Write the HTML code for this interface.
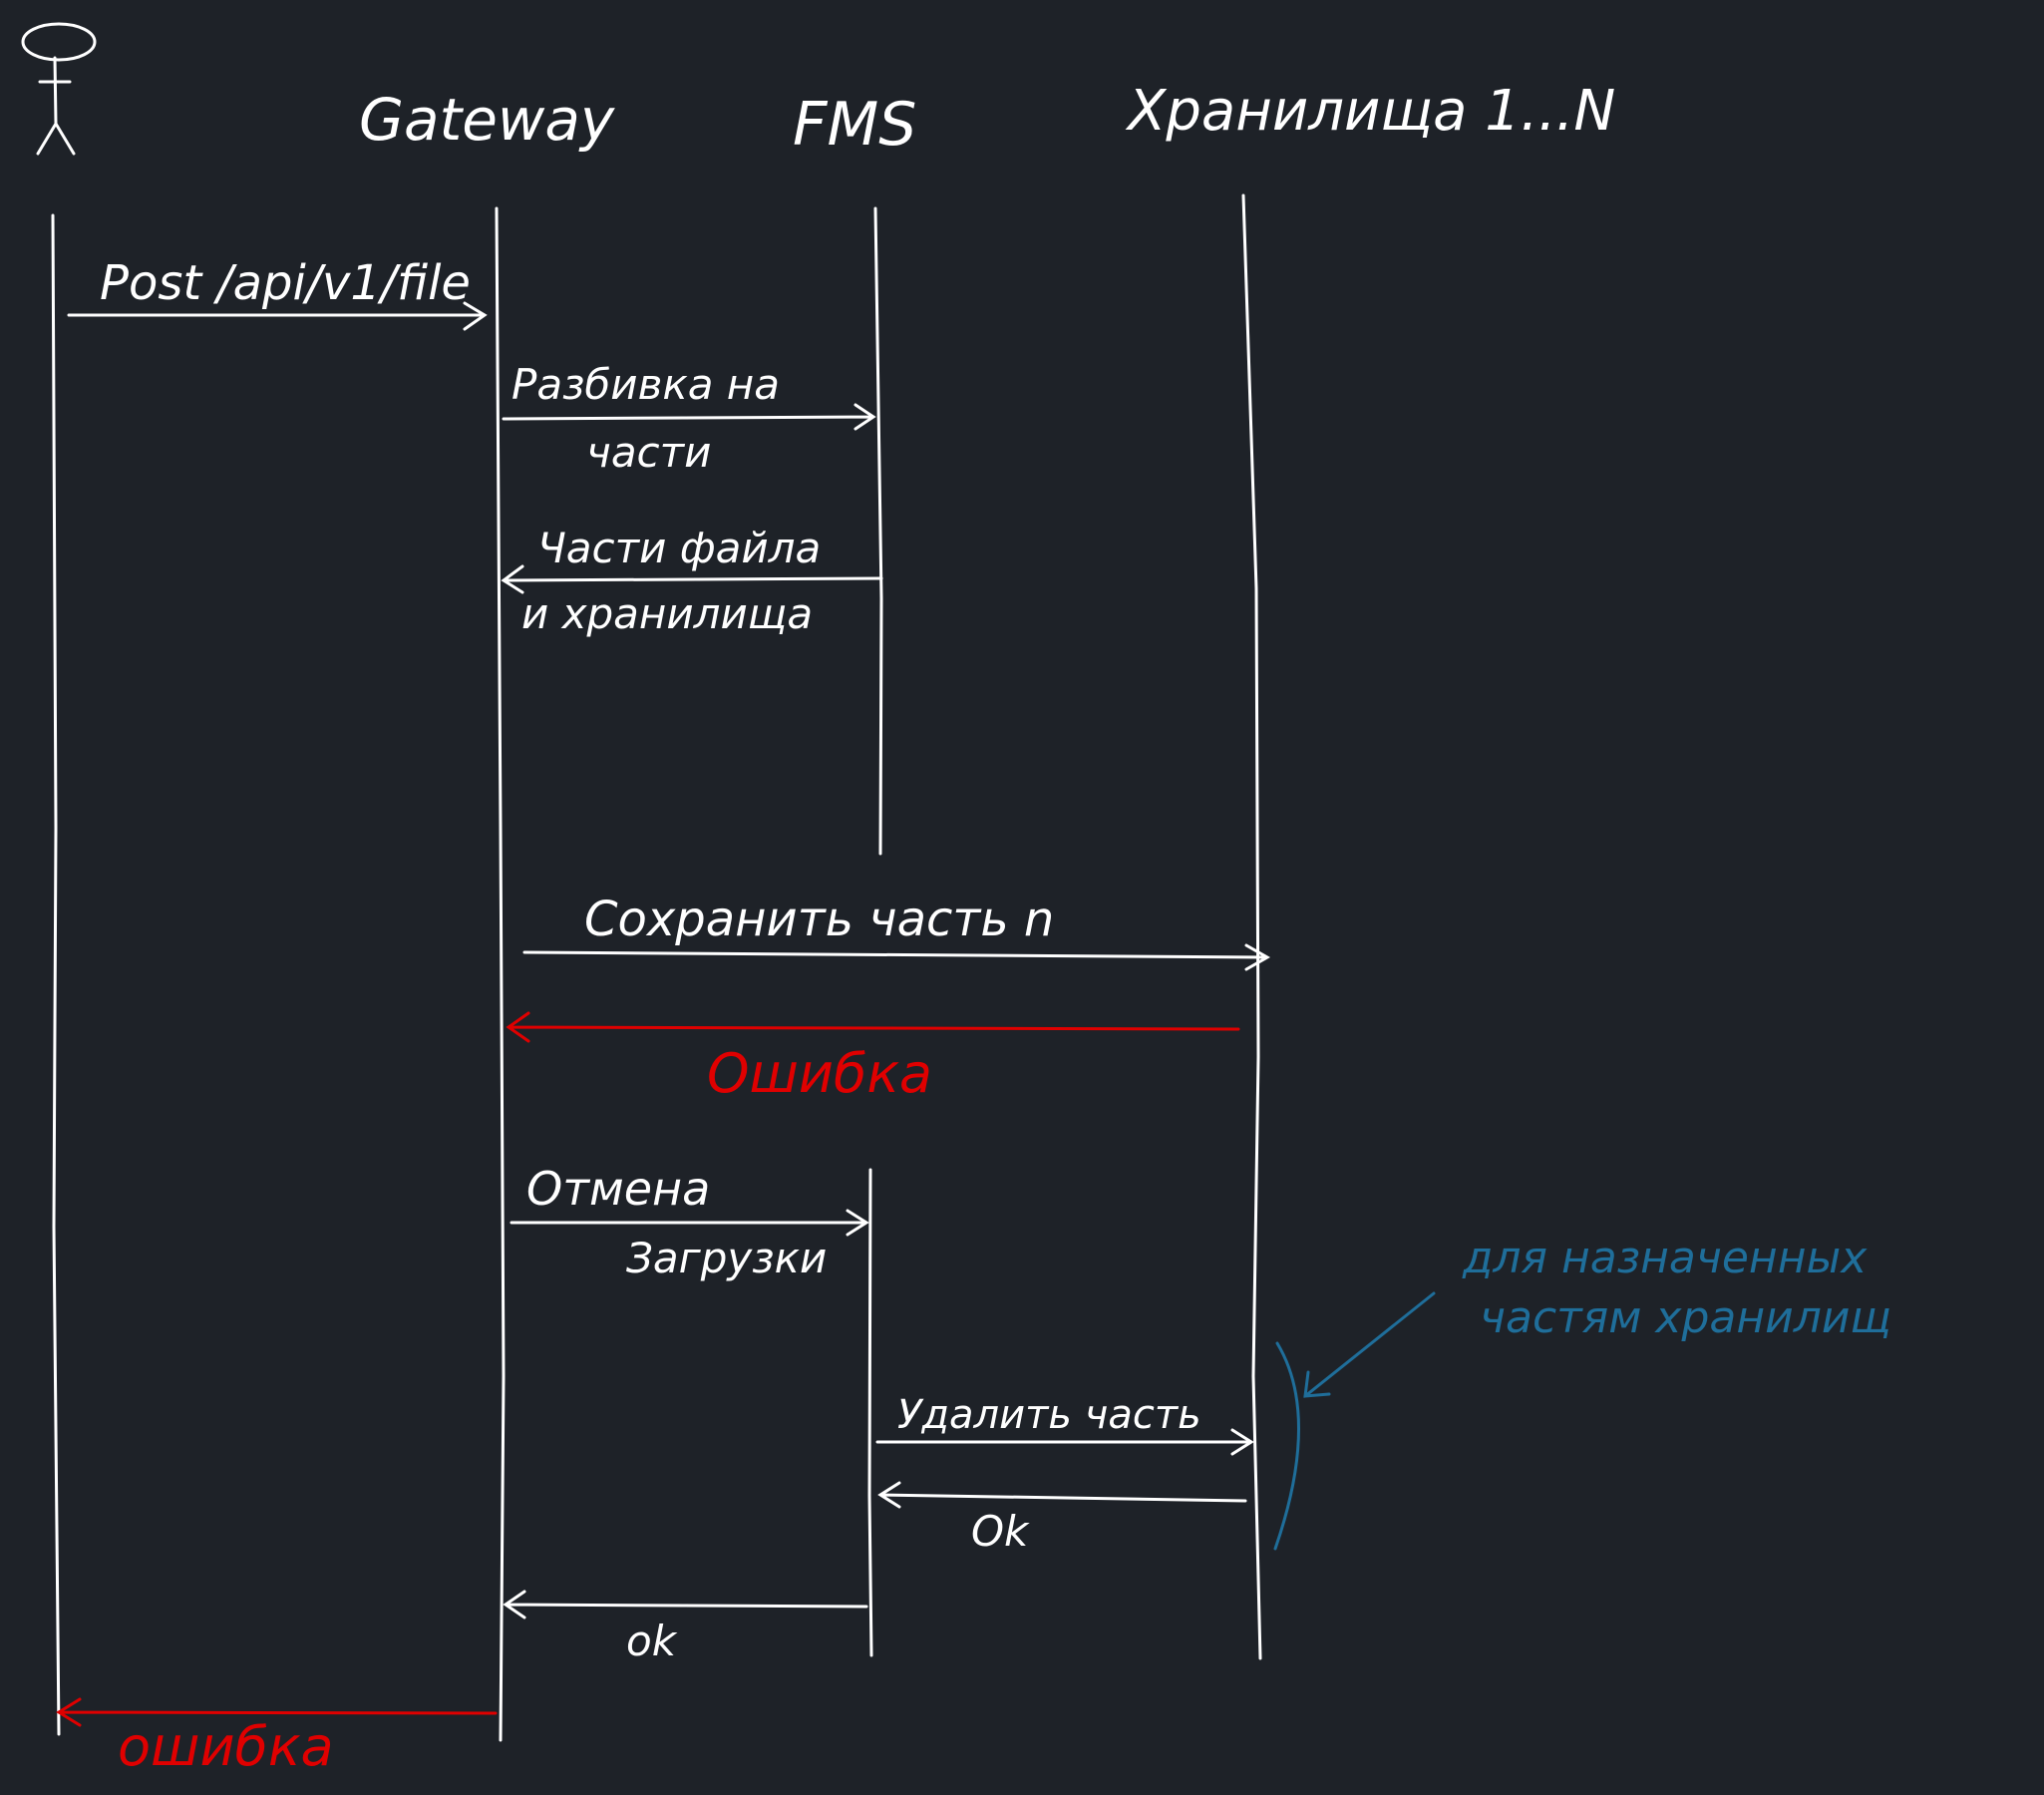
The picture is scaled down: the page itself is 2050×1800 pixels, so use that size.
<!DOCTYPE html>
<html><head><meta charset="utf-8">
<style>
html,body{margin:0;padding:0;background:#1e2228;}
svg{display:block}
text{font-family:"DejaVu Sans","Liberation Sans",sans-serif;font-style:italic;}
</style></head>
<body>
<svg width="2050" height="1800" viewBox="0 0 2050 1800" xmlns="http://www.w3.org/2000/svg">
<rect width="2050" height="1800" fill="#1e2228"/>
<g stroke="#ffffff" stroke-width="3" fill="none" stroke-linecap="round">
  <ellipse cx="59" cy="42" rx="36" ry="18"/>
  <path d="M55 58 L56 124 M40 82 L70 82 M56 124 L38 154 M56 124 L74 154"/>
  <path d="M53 216 L56 830 L54 1230 L59 1739"/>
  <path d="M498 209 L502 830 L505 1380 L502 1745"/>
  <path d="M878 209 L884 600 L883 856"/>
  <path d="M873 1173 L872 1500 L874 1660"/>
  <path d="M1247 196 L1260 590 L1262 1060 L1257 1380 L1264 1663"/>
  <path d="M69 316 L486 316 M466 304 L486 316 L466 330"/>
  <path d="M505 420 L876 418 M858 406 L876 418 L858 430"/>
  <path d="M884 580 L505 582 M524 568 L505 582 L524 594"/>
  <path d="M526 955 L1271 960 M1250 948 L1271 960 L1250 972"/>
  <path d="M513 1226 L869 1226 M850 1214 L869 1226 L850 1238"/>
  <path d="M880 1446 L1255 1446 M1236 1434 L1255 1446 L1236 1458"/>
  <path d="M1249 1505 L883 1499 M902 1487 L883 1499 L902 1511"/>
  <path d="M869 1611 L507 1609 M526 1596 L507 1609 L526 1622"/>
</g>
<g stroke="#e00000" stroke-width="3" fill="none" stroke-linecap="round">
  <path d="M1242 1032 L510 1030 M530 1016 L510 1030 L530 1044"/>
  <path d="M497 1718 L59 1717 M80 1704 L59 1717 L80 1730"/>
</g>
<g stroke="#1f6e9a" stroke-width="3" fill="none" stroke-linecap="round">
  <path d="M1438 1297 L1309 1400 M1312 1376 L1309 1400 L1333 1398"/>
  <path d="M1281 1347 Q1325 1420 1279 1553"/>
</g>
<g fill="#ffffff">
  <text x="360" y="140" font-size="58" font-style="normal">Gateway</text>
  <text x="795" y="145" font-size="60" font-style="normal">FMS</text>
  <text x="1131" y="130" font-size="56">Хранилища 1...N</text>
  <text x="100" y="300" font-size="48">Post /api/v1/file</text>
  <text x="513" y="400" font-size="42">Разбивка на</text>
  <text x="588" y="468" font-size="42">части</text>
  <text x="539" y="564" font-size="42">Части файла</text>
  <text x="523" y="630" font-size="42">и хранилища</text>
  <text x="586" y="938" font-size="48">Сохранить часть n</text>
  <text x="528" y="1208" font-size="46">Отмена</text>
  <text x="628" y="1276" font-size="42">Загрузки</text>
  <text x="900" y="1432" font-size="40">Удалить часть</text>
  <text x="974" y="1550" font-size="42">Ok</text>
  <text x="628" y="1660" font-size="42">ok</text>
</g>
<g fill="#e00000">
  <text x="709" y="1095" font-size="54">Ошибка</text>
  <text x="118" y="1770" font-size="54">ошибка</text>
</g>
<g fill="#1f6e9a">
  <text x="1467" y="1276" font-size="44">для назначенных</text>
  <text x="1484" y="1336" font-size="44">частям хранилищ</text>
</g>
</svg>
</body></html>
